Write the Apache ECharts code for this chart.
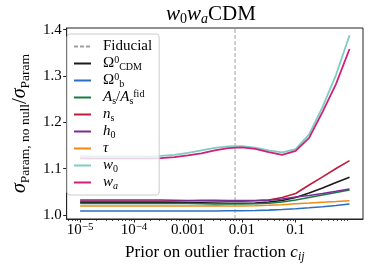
<!DOCTYPE html>
<html><head><meta charset="utf-8">
<script src="https://cdn.jsdelivr.net/npm/echarts@6/dist/echarts.min.js"></script>
<style>html,body{margin:0;padding:0;background:#fff}#c{width:374px;height:273px}</style>
</head><body><div id="c"></div>
<script>
// ---- data ----
const xValues = [1.000e-5, 1.778e-5, 3.162e-5, 5.623e-5, 1.000e-4, 1.778e-4, 3.162e-4, 5.623e-4, 1.000e-3, 1.778e-3, 3.162e-3, 5.623e-3, 0.01, 0.01778, 0.03162, 0.05623, 0.1, 0.1778, 0.3162, 0.5623, 1.0];
const fiducial = 0.0075;
const omegaCDM = [1.0275,1.0275,1.0275,1.0275,1.0275,1.0275,1.0275,1.0275,1.0270,1.0264,1.0259,1.0253,1.0253,1.0259,1.0281,1.0314,1.0378,1.0476,1.0584,1.0703,1.0815];
const omegaB = [1.0086,1.0086,1.0086,1.0086,1.0086,1.0086,1.0086,1.0086,1.0086,1.0086,1.0086,1.0091,1.0093,1.0097,1.0106,1.0119,1.0136,1.0156,1.0177,1.0205,1.0238];
const aS = [1.0249,1.0249,1.0249,1.0249,1.0249,1.0249,1.0249,1.0249,1.0249,1.0244,1.0240,1.0238,1.0238,1.0244,1.0255,1.0281,1.0324,1.0378,1.0432,1.0486,1.0541];
const nS = [1.0324,1.0324,1.0324,1.0324,1.0324,1.0324,1.0324,1.0320,1.0314,1.0307,1.0303,1.0298,1.0298,1.0307,1.0324,1.0378,1.0465,1.0649,1.0822,1.1005,1.1174];
const h0 = [1.0296,1.0296,1.0296,1.0296,1.0296,1.0296,1.0296,1.0303,1.0309,1.0316,1.0318,1.0314,1.0311,1.0314,1.0322,1.0346,1.0389,1.0422,1.0465,1.0512,1.0562];
const tau = [1.0195,1.0195,1.0195,1.0195,1.0195,1.0195,1.0195,1.0195,1.0195,1.0195,1.0199,1.0195,1.0195,1.0201,1.0210,1.0223,1.0242,1.0259,1.0277,1.0292,1.0309];
const w0 = [1.1265,1.1265,1.1265,1.1265,1.1265,1.1265,1.1276,1.1297,1.1341,1.1395,1.1449,1.1481,1.1485,1.1453,1.1395,1.1351,1.1421,1.1741,1.2335,1.3027,1.3881];
const wa = [1.1222,1.1222,1.1222,1.1222,1.1222,1.1222,1.1228,1.1248,1.1286,1.1330,1.1395,1.1442,1.1459,1.1427,1.1356,1.1297,1.1384,1.1665,1.2227,1.2832,1.3583];

const seriesNames = ['Fiducial','OmegaCDM','OmegaB','As','ns','h0','tau','w0','wa'];
const seriesLabels = ['Fiducial','Ω{sup|0}{sub|CDM}','Ω{sup|0}{sub|b}','{it|A}{sub|s}/{it|A}{sub|s}{sup|fid}','{it|n}{sub|s}','{it|h}{sub|0}','{it|τ}','{it|w}{sub|0}','{it|w}{subi|a}'];
const seriesColors = ['#a0a0a0','#1a1a1a','#2b6fc2','#1a7a45','#c01a3c','#7a2c95','#ef8a17','#7fcdc0','#d01f7c'];

const xTickValues = [1e-5, 1e-4, 1e-3, 1e-2, 1e-1];
const xTickLabels = ['10{sup|−5}','10{sup|−4}','0.001','0.01','0.1'];
const yTickValues = [1.0, 1.1, 1.2, 1.3, 1.4];
const yTickLabels = ['1.0','1.1','1.2','1.3','1.4'];

const xMin = 5.623e-6, xMax = 1.778;
const yMin = 0.9914, yMax = 1.4037;

// minor log ticks (2..9 in every decade)
const xMinor = [];
for (let e = -6; e <= 0; e++) for (let m = 2; m <= 9; m++) {
  const v = m * Math.pow(10, e);
  if (v > xMin && v < xMax) xMinor.push(v);
}

const FONT = 'Liberation Serif';
const curveData = [omegaCDM, omegaB, aS, nS, h0, tau, w0, wa];

const series = [{
  name: seriesNames[0], type: 'line', symbol: 'none', silent: true,
  data: [[fiducial, yMin], [fiducial, yMax]],
  lineStyle: { color: seriesColors[0], width: 1, type: [4, 2] },
  itemStyle: { color: seriesColors[0] }
}];
curveData.forEach((arr, i) => {
  series.push({
    name: seriesNames[i + 1], type: 'line', symbol: 'none',
    data: xValues.map((x, j) => [x, arr[j]]),
    lineStyle: { color: seriesColors[i + 1], width: (i >= 6 ? 1.8 : 1.6) },
    itemStyle: { color: seriesColors[i + 1] }
  });
});

const legendRich = {
  it: { fontStyle: 'italic', fontSize: 15, fontFamily: FONT, lineHeight: 17 },
  sub: { fontSize: 10, fontFamily: FONT, lineHeight: 8, verticalAlign: 'bottom' },
  subi: { fontSize: 10, fontStyle: 'italic', fontFamily: FONT, lineHeight: 8, verticalAlign: 'bottom' },
  sup: { fontSize: 10, fontFamily: FONT, lineHeight: 8, verticalAlign: 'top' }
};

const chart = echarts.init(document.getElementById('c'), null, { renderer: 'canvas' });
chart.setOption({
  animation: false,
  backgroundColor: '#fff',
  grid: { left: 59, right: 11, top: 28, bottom: 54, show: true, borderColor: '#222', borderWidth: 1, backgroundColor: 'transparent' },
  graphic: [{
    type: 'text', x: 211, y: 14, z: 10,
    style: {
      text: '{w|w}{s|0}{w|w}{sa|a}{r|CDM}', align: 'center', verticalAlign: 'middle',
      rich: {
        w: { fontFamily: FONT, fontStyle: 'italic', fontSize: 21, lineHeight: 24, fill: '#000' },
        s: { fontFamily: FONT, fontSize: 14, lineHeight: 12, verticalAlign: 'bottom', fill: '#000' },
        sa: { fontFamily: FONT, fontStyle: 'italic', fontSize: 14, lineHeight: 12, verticalAlign: 'bottom', fill: '#000' },
        r: { fontFamily: FONT, fontSize: 21, lineHeight: 24, fill: '#000' }
      }
    }
  }],
  legend: {
    orient: 'vertical', left: 67, top: 34, itemGap: 0, itemWidth: 17, itemHeight: 10,
    padding: [4, 7, 4, 6], backgroundColor: 'rgba(255,255,255,0.8)', borderColor: '#cccccc', borderWidth: 1, borderRadius: 3,
    selectedMode: false,
    itemStyle: { opacity: 0 },
    data: seriesNames,
    formatter: name => seriesLabels[seriesNames.indexOf(name)],
    textStyle: { fontFamily: FONT, fontSize: 15, color: '#000', lineHeight: 17, padding: [0, 0, 0, 7], rich: legendRich }
  },
  xAxis: [{
    type: 'log', logBase: 10, min: xMin, max: xMax,
    name: 'Prior on outlier fraction {i|c}{sb|ij}', nameLocation: 'middle', nameGap: 24,
    nameTextStyle: { fontFamily: FONT, fontSize: 17, color: '#000', lineHeight: 20,
      rich: { i: { fontFamily: FONT, fontStyle: 'italic', fontSize: 17, lineHeight: 20 },
              sb: { fontFamily: FONT, fontStyle: 'italic', fontSize: 12, lineHeight: 9, verticalAlign: 'bottom' } } },
    axisLine: { show: true, lineStyle: { color: '#222', width: 1 } },
    splitLine: { show: false }, minorSplitLine: { show: false },
    axisTick: { show: true, length: 3.5, lineStyle: { color: '#222', width: 1 }, customValues: xTickValues },
    axisLabel: { margin: 3, fontFamily: FONT, fontSize: 15, color: '#000', lineHeight: 16,
      customValues: xTickValues,
      formatter: v => { const i = xTickValues.findIndex(t => Math.abs(Math.log10(t) - Math.log10(v)) < 1e-6); return i >= 0 ? xTickLabels[i] : ''; },
      rich: { sup: { fontFamily: FONT, fontSize: 11, lineHeight: 8, verticalAlign: 'top' } } }
  }, {
    type: 'log', logBase: 10, min: xMin, max: xMax, position: 'bottom',
    axisLine: { show: false }, splitLine: { show: false }, axisLabel: { show: false },
    axisTick: { show: true, length: 2, lineStyle: { color: '#222', width: 0.8 }, customValues: xMinor }
  }],
  yAxis: {
    type: 'value', min: yMin, max: yMax,
    name: '{s|σ}{sb|Param, no null}{r|/}{s|σ}{sb|Param}', nameLocation: 'middle', nameGap: 30, nameRotate: 90,
    nameTextStyle: { fontFamily: FONT, fontSize: 20, color: '#000', lineHeight: 24,
      rich: { s: { fontFamily: FONT, fontStyle: 'italic', fontSize: 20, lineHeight: 24 },
              r: { fontFamily: FONT, fontSize: 21, lineHeight: 24 },
              sb: { fontFamily: FONT, fontSize: 13.5, lineHeight: 11, verticalAlign: 'bottom' } } },
    axisLine: { show: true, lineStyle: { color: '#222', width: 1 } },
    splitLine: { show: false },
    axisTick: { show: true, length: 3.5, lineStyle: { color: '#222', width: 1 }, customValues: yTickValues },
    axisLabel: { margin: 5, fontFamily: FONT, fontSize: 15, color: '#000', customValues: yTickValues,
      formatter: v => { const i = yTickValues.findIndex(t => Math.abs(t - v) < 1e-6); return i >= 0 ? yTickLabels[i] : ''; } }
  },
  series: series
});
</script>
</body></html>
